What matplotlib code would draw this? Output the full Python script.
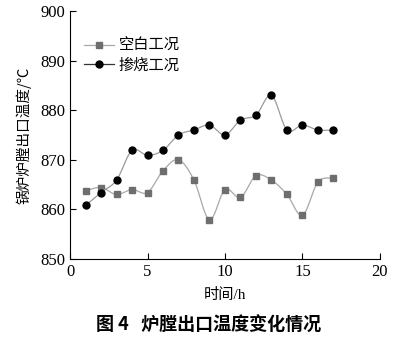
import numpy as np
import matplotlib.pyplot as plt

plt.rcParams['font.family'] = ['Liberation Serif', 'Noto Sans CJK SC']

hours = [1, 2, 3, 4, 5, 6, 7, 8, 9, 10, 11, 12, 13, 14, 15, 16, 17]
blank = [863.8, 864.4, 863.0, 864.0, 863.4, 867.8, 870.0, 865.9, 857.9, 864.0,
         862.4, 866.8, 865.9, 863.0, 858.8, 865.5, 866.4]
mixed = [860.8, 863.4, 865.9, 871.9, 870.9, 871.9, 875.0, 876.0, 877.0, 875.0,
         878.0, 879.0, 883.0, 876.0, 877.0, 876.0, 876.0]


def smooth(x, y, n=20):
    # Catmull-Rom curve through every point
    x = np.asarray(x, float)
    y = np.asarray(y, float)
    px = np.concatenate([[2 * x[0] - x[1]], x, [2 * x[-1] - x[-2]]])
    py = np.concatenate([[2 * y[0] - y[1]], y, [2 * y[-1] - y[-2]]])
    xs, ys = [], []
    t = np.linspace(0, 1, n, endpoint=False)
    for i in range(1, len(px) - 2):
        for p, out in ((px, xs), (py, ys)):
            p0, p1, p2, p3 = p[i - 1], p[i], p[i + 1], p[i + 2]
            out.extend(0.5 * (2 * p1 + (-p0 + p2) * t
                              + (2 * p0 - 5 * p1 + 4 * p2 - p3) * t ** 2
                              + (-p0 + 3 * p1 - 3 * p2 + p3) * t ** 3))
    xs.append(x[-1])
    ys.append(y[-1])
    return xs, ys


fig = plt.figure(figsize=(4.17, 3.43), dpi=100)
ax = fig.add_axes([0.168, 0.245, 0.743, 0.723])

sx, sy = smooth(hours, blank)
ax.plot(sx, sy, color='#a8a8a8', lw=0.9)
ax.plot(hours, blank, ls='none', marker='s', ms=4.5, color='#6e6e6e')
mx, my = smooth(hours, mixed)
ax.plot(mx, my, color='#9a9a9a', lw=0.9)
ax.plot(hours, mixed, ls='none', marker='o', ms=5, color='black')

# legend entries: line + marker
h1, = ax.plot([], [], color='#a8a8a8', lw=0.9, marker='s', ms=4.5,
              mfc='#6e6e6e', mec='#6e6e6e')
h2, = ax.plot([], [], color='#333333', lw=0.9, marker='o', ms=5,
              mfc='black', mec='black')
ax.legend([h1, h2], ['空白工况', '掺烧工况'], loc='upper left',
          bbox_to_anchor=(0.0, 0.95), frameon=False, handlelength=2.0,
          handletextpad=0.3, labelspacing=0.15,
          prop={'family': ['Noto Sans CJK SC'], 'size': 11})

ax.set_xlim(0, 20)
ax.set_ylim(850, 900)
ax.set_xticks([0, 5, 10, 15, 20])
ax.set_yticks([850, 860, 870, 880, 890, 900])
ax.tick_params(direction='in', length=4, width=0.8, labelsize=12)
for s in ('top', 'right'):
    ax.spines[s].set_visible(False)

ax.set_xlabel('时间/h', fontsize=11, labelpad=6)
ax.set_ylabel('锅炉炉膛出口温度/℃', fontsize=10.5, labelpad=6,
              family=['Noto Sans CJK SC'])

fig.text(0.5, 0.052, '图 4   炉膛出口温度变化情况', ha='center', va='center',
         fontsize=13, fontweight='bold', family=['Noto Sans CJK SC'])

fig.savefig('out.png', dpi=100)
